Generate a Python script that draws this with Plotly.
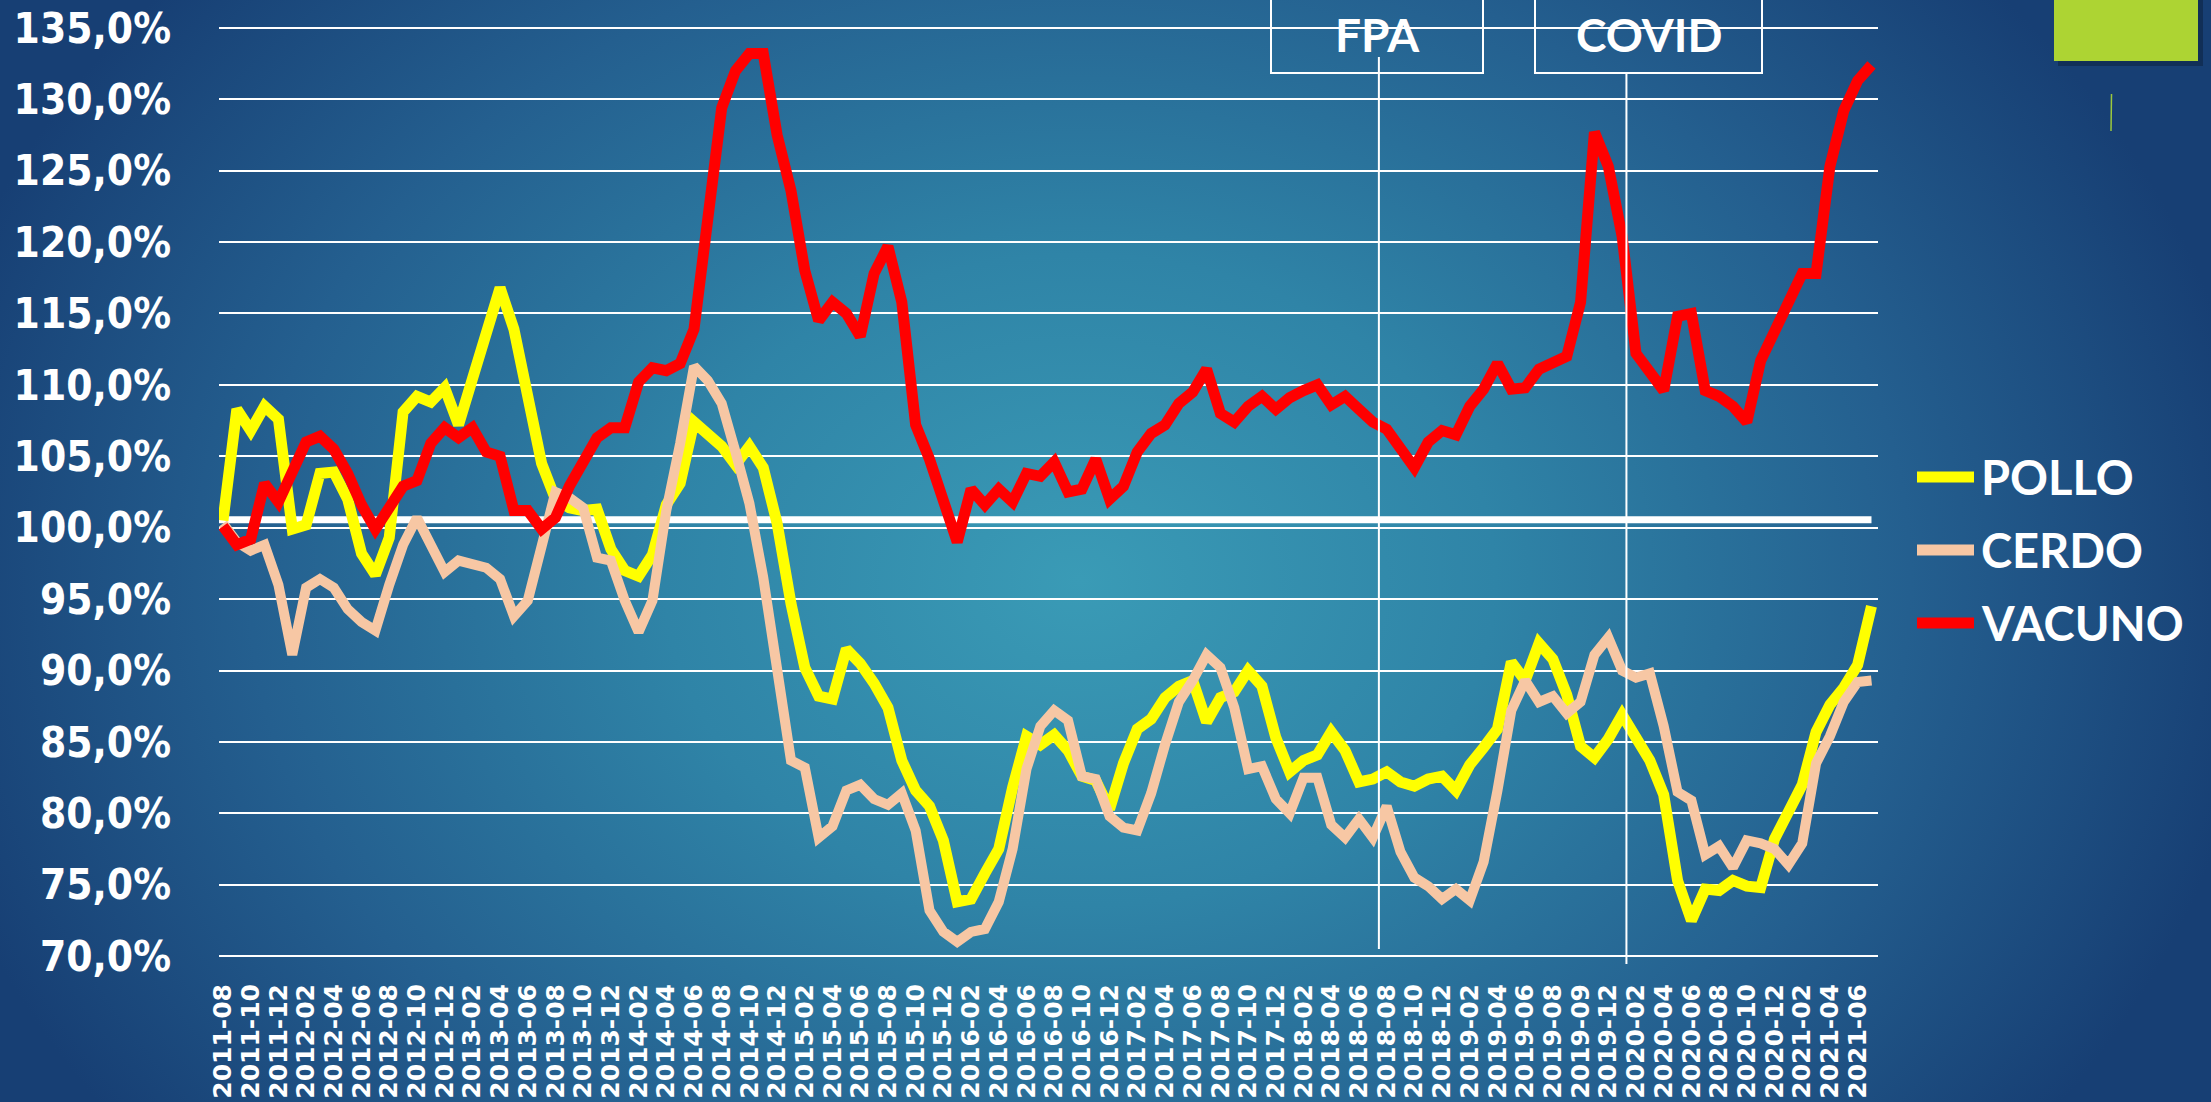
import base64
import plotly.graph_objects as go

# ---------------- data ----------------
tick_labels = [
    "2011-08", "2011-10", "2011-12",
    "2012-02", "2012-04", "2012-06", "2012-08", "2012-10", "2012-12",
    "2013-02", "2013-04", "2013-06", "2013-08", "2013-10", "2013-12",
    "2014-02", "2014-04", "2014-06", "2014-08", "2014-10", "2014-12",
    "2015-02", "2015-04", "2015-06", "2015-08", "2015-10", "2015-12",
    "2016-02", "2016-04", "2016-06", "2016-08", "2016-10", "2016-12",
    "2017-02", "2017-04", "2017-06", "2017-08", "2017-10", "2017-12",
    "2018-02", "2018-04", "2018-06", "2018-08", "2018-10", "2018-12",
    "2019-02", "2019-04", "2019-06", "2019-08", "2019-09", "2019-12",
    "2020-02", "2020-04", "2020-06", "2020-08", "2020-10", "2020-12",
    "2021-02", "2021-04", "2021-06",
]

pollo = [
    100.5, 108.3, 106.8, 108.5, 107.6, 99.9, 100.2, 103.8, 103.9, 102.0,
    98.2, 96.7, 99.3, 108.1, 109.2, 108.8, 109.8, 107.2, 110.4, 113.6,
    116.8, 113.9, 109.5, 104.5, 102.0, 101.4, 101.2, 101.3, 98.5, 97.0,
    96.6, 98.1, 101.6, 103.1, 107.4, 106.6, 105.7, 104.4, 105.7, 104.2,
    100.3, 94.7, 90.2, 88.2, 88.0, 91.5, 90.5, 89.1, 87.4, 83.7,
    81.6, 80.5, 78.1, 73.8, 74.0, 75.8, 77.5, 81.8, 85.4, 84.8,
    85.5, 84.4, 82.6, 82.3, 80.3, 83.5, 85.9, 86.6, 88.1, 88.9,
    89.3, 86.4, 88.1, 88.5, 90.0, 88.9, 85.3, 82.9, 83.7, 84.1,
    85.7, 84.4, 82.2, 82.4, 82.9, 82.2, 81.9, 82.4, 82.6, 81.6,
    83.4, 84.6, 85.9, 90.6, 89.3, 91.9, 90.8, 88.3, 84.7, 83.9,
    85.2, 86.9, 85.2, 83.7, 81.3, 75.3, 72.5, 74.7, 74.6, 75.3,
    74.9, 74.8, 78.2, 80.1, 82.0, 85.7, 87.6, 88.8, 90.4, 94.5,
]

cerdo = [
    100.3, 99.0, 98.4, 98.8, 96.0, 91.1, 95.8, 96.4, 95.8, 94.3,
    93.4, 92.8, 96.0, 98.8, 100.7, 98.8, 96.9, 97.7, 97.5, 97.2,
    96.4, 93.8, 94.9, 98.6, 102.5, 102.1, 101.4, 97.9, 97.7, 94.9,
    92.7, 94.9, 101.2, 105.9, 111.3, 110.3, 108.7, 105.3, 101.7, 96.5,
    89.6, 83.7, 83.2, 78.3, 79.1, 81.6, 82.0, 81.0, 80.6, 81.4,
    78.8, 73.2, 71.7, 71.0, 71.7, 71.9, 73.8, 77.5, 83.1, 86.1,
    87.2, 86.5, 82.6, 82.4, 79.8, 79.0, 78.8, 81.4, 84.8, 87.8,
    89.3, 91.1, 90.2, 87.4, 83.1, 83.3, 81.0, 80.0, 82.5, 82.5,
    79.2, 78.3, 79.6, 78.3, 80.5, 77.3, 75.5, 74.9, 74.0, 74.7,
    73.9, 76.6, 81.6, 87.2, 89.3, 87.8, 88.2, 87.0, 87.8, 91.1,
    92.3, 90.0, 89.5, 89.8, 86.1, 81.5, 80.9, 77.1, 77.7, 76.2,
    78.1, 77.9, 77.5, 76.4, 77.9, 83.5, 85.4, 87.8, 89.2, 89.3,
]

vacuno = [
    100.1, 98.8, 99.2, 103.1, 101.8, 103.9, 106.0, 106.4, 105.5, 103.8,
    101.6, 99.9, 101.4, 102.9, 103.3, 105.9, 107.0, 106.3, 107.0, 105.3,
    105.0, 101.2, 101.2, 99.9, 100.7, 102.9, 104.6, 106.3, 107.0, 107.0,
    110.2, 111.2, 111.0, 111.5, 113.9, 121.9, 129.4, 132.0, 133.2, 133.2,
    127.5, 123.6, 118.0, 114.5, 115.8, 115.0, 113.4, 117.8, 119.7, 115.8,
    107.2, 104.8, 102.0, 99.0, 102.7, 101.6, 102.7, 101.8, 103.8, 103.6,
    104.6, 102.5, 102.7, 104.8, 102.0, 102.9, 105.3, 106.6, 107.2, 108.7,
    109.5, 111.1, 108.0, 107.4, 108.5, 109.2, 108.3, 109.1, 109.6, 110.0,
    108.6, 109.2, 108.3, 107.4, 106.9, 105.6, 104.2, 106.0, 106.8, 106.5,
    108.5, 109.7, 111.5, 109.7, 109.8, 111.1, 111.5, 112.0, 115.8, 127.7,
    125.3, 120.4, 112.2, 110.9, 109.6, 114.8, 115.0, 109.6, 109.2, 108.5,
    107.4, 111.7, 113.7, 115.6, 117.8, 117.8, 125.3, 129.2, 131.3, 132.4,
]

series_names = ["POLLO", "CERDO", "VACUNO"]
series_colors = ["#FFFF00", "#F7C7A4", "#FF0000"]
series_widths = [11, 10, 11]

y_ticks = [70, 75, 80, 85, 90, 95, 100, 105, 110, 115, 120, 125, 130, 135]
y_tick_text = ["70,0%", "75,0%", "80,0%", "85,0%", "90,0%", "95,0%", "100,0%",
               "105,0%", "110,0%", "115,0%", "120,0%", "125,0%", "130,0%", "135,0%"]

event_names = ["FPA", "COVID"]
event_index = [83.44, 101.31]   # position on the month axis
reference_level = 100.55

# ---------------- geometry ----------------
W, H = 2211, 1102
ML, MR, MT, MB = 219, 333, 25, 143
PW, PH = W - ML - MR, H - MT - MB
x_range = [-0.289, 119.47]
y_range = [69.8, 135.2]

n = len(pollo)
xs = list(range(n))
tick_vals = list(range(0, 2 * len(tick_labels), 2))


def xp(px):
    return (px - ML) / PW


def yp(py):
    return (H - MB - py) / PH


def xi(i):
    return (i - x_range[0]) / (x_range[1] - x_range[0])


# ---------------- background gradient ----------------
svg = f"""<svg xmlns='http://www.w3.org/2000/svg' width='{W}' height='{H}' viewBox='0 0 {W} {H}' preserveAspectRatio='none'>
<defs><radialGradient id='g' gradientUnits='userSpaceOnUse' cx='1080' cy='580' r='1180'
 gradientTransform='translate(1080 580) scale(1 0.78) translate(-1080 -580)'>
<stop offset='0' stop-color='#3a9bb6'/>
<stop offset='0.35' stop-color='#2f84a7'/>
<stop offset='0.7' stop-color='#245f8f'/>
<stop offset='1' stop-color='#173f74'/>
</radialGradient></defs>
<rect x='0' y='0' width='{W}' height='{H}' fill='url(#g)'/></svg>"""
bg_src = "data:image/svg+xml;base64," + base64.b64encode(svg.encode()).decode()

fig = go.Figure()

# reference line at ~100%
fig.add_trace(go.Scatter(
    x=[x_range[0], n - 1], y=[reference_level, reference_level], mode="lines",
    line=dict(color="white", width=7), showlegend=False, hoverinfo="skip"))

for name, vals, col, lw in zip(series_names, [pollo, cerdo, vacuno], series_colors, series_widths):
    fig.add_trace(go.Scatter(
        x=xs, y=vals, mode="lines", name=name,
        line=dict(color=col, width=lw), showlegend=False))

shapes = []
annotations = []

# event boxes, labels and vertical lines
box_px = [(1271, 1483), (1535, 1762)]
line_px = [(57, 949), (73, 964)]
for name, idx, (bx0, bx1), (ly0, ly1) in zip(event_names, event_index, box_px, line_px):
    shapes.append(dict(type="rect", xref="paper", yref="paper",
                       x0=xp(bx0), x1=xp(bx1), y0=yp(73), y1=yp(-5),
                       line=dict(color="white", width=2), fillcolor="rgba(0,0,0,0)"))
    shapes.append(dict(type="line", xref="paper", yref="paper",
                       x0=xi(idx), x1=xi(idx), y0=yp(ly1), y1=yp(ly0),
                       line=dict(color="white", width=2)))
    annotations.append(dict(text=name, xref="paper", yref="paper",
                            x=(xp(bx0) + xp(bx1)) / 2, y=yp(35),
                            xanchor="center", yanchor="middle", showarrow=False,
                            font=dict(family="Lato", size=46, color="white", weight="bold")))

# custom legend
leg_y = [477, 550, 623]
for name, col, ly in zip(series_names, series_colors, leg_y):
    shapes.append(dict(type="line", xref="paper", yref="paper",
                       x0=xp(1917), x1=xp(1974), y0=yp(ly), y1=yp(ly),
                       line=dict(color=col, width=11)))
    annotations.append(dict(text=name, xref="paper", yref="paper",
                            x=xp(1979), y=yp(ly), xanchor="left", yanchor="middle",
                            showarrow=False,
                            font=dict(family="Lato", size=47, color="white", weight="bold")))

# decorative green block
shapes.append(dict(type="rect", xref="paper", yref="paper",
                   x0=xp(2058), x1=xp(2203), y0=yp(66), y1=yp(-5),
                   line=dict(width=0), fillcolor="rgba(0,0,0,0.25)"))
shapes.append(dict(type="rect", xref="paper", yref="paper",
                   x0=xp(2054), x1=xp(2198), y0=yp(61), y1=yp(-5),
                   line=dict(width=0), fillcolor="#add433"))
shapes.append(dict(type="line", xref="paper", yref="paper",
                   x0=xp(2111), x1=xp(2111.5), y0=yp(131), y1=yp(94),
                   line=dict(color="#9cc83c", width=1.5)))

pad = 6
fig.update_layout(
    width=W, height=H,
    margin=dict(l=ML, r=MR, t=MT, b=MB, pad=0, autoexpand=False),
    paper_bgcolor="#245f8f",
    plot_bgcolor="rgba(0,0,0,0)",
    showlegend=False,
    shapes=shapes,
    annotations=annotations,
    images=[dict(source=bg_src, xref="paper", yref="paper",
                 x=(-ML - pad) / PW, y=(H - MB + pad) / PH,
                 sizex=(W + 2 * pad) / PW, sizey=(H + 2 * pad) / PH,
                 xanchor="left", yanchor="top", sizing="stretch", layer="below")],
    xaxis=dict(range=x_range, showgrid=False, zeroline=False, showline=False,
               automargin=False,
               tickmode="array", tickvals=tick_vals, ticktext=tick_labels,
               tickangle=-90, ticks="", ticklabelstandoff=19,
               tickfont=dict(family="DejaVu Sans", size=25, color="white", weight="bold")),
    yaxis=dict(range=y_range, showgrid=True, gridcolor="white", gridwidth=2,
               zeroline=False, showline=False, automargin=False,
               tickmode="array", tickvals=y_ticks, ticktext=y_tick_text,
               ticks="", ticklabelstandoff=47,
               tickfont=dict(family="DejaVu Sans Condensed", size=42, color="white", weight="bold")),
)

fig.write_html(
    "out.html",
    config={"displayModeBar": False},
    post_script="document.body.style.margin='0';document.body.style.overflow='hidden';"
                "document.documentElement.style.overflow='hidden';",
)
